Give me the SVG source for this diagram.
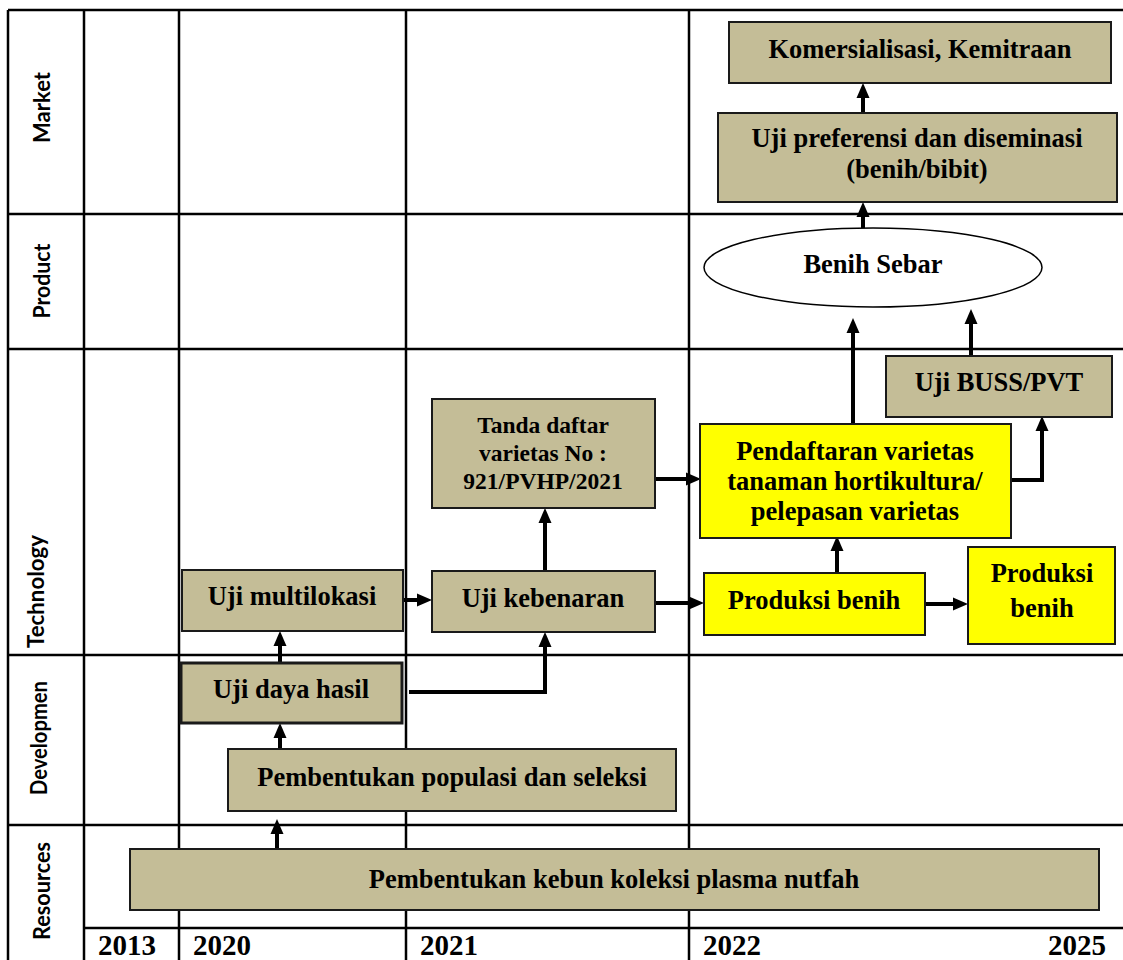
<svg xmlns="http://www.w3.org/2000/svg" width="1123" height="960" viewBox="0 0 1123 960">
<style>
.grid{stroke:#000;stroke-width:2.5;fill:none}
.tan{fill:#C4BD97;stroke:#1a1a1a;stroke-width:2}
.yel{fill:#FFFF00;stroke:#1a1a1a;stroke-width:2}
.t{font-family:"Liberation Serif","Times New Roman",serif;font-weight:bold;font-size:26.5px;fill:#000;text-anchor:middle}
.ts{font-size:23.5px}
.yr{font-family:"Liberation Serif","Times New Roman",serif;font-weight:bold;font-size:29px;fill:#000}
.rl{font-family:Lato,"Open Sans",sans-serif;font-weight:bold;font-size:22px;fill:#000;text-anchor:middle}
.c{stroke:#000;stroke-width:4;fill:none;marker-end:url(#ah)}
</style>
<defs>
<marker id="ah" markerUnits="userSpaceOnUse" markerWidth="15" markerHeight="14" refX="0" refY="7" orient="auto" overflow="visible">
<path d="M0,0.5 L15,7 L0,13.5 z" fill="#000"/>
</marker>
</defs>
<rect x="0" y="0" width="1123" height="960" fill="#fff"/>
<g id="grid">
<path class="grid" d="M8,10 H1123 M8,214 H1123 M8,349 H1123 M8,655 H1123 M8,825 H1123 M84,928 H1123"/>
<path class="grid" d="M8,10 V960 M84,10 V960 M179,10 V960 M406,10 V960 M689,10 V960"/>
</g>
<g id="row-labels">
<text class="rl" transform="translate(50,107.5) rotate(-90)" textLength="71" lengthAdjust="spacingAndGlyphs">Market</text>
<text class="rl" transform="translate(50,281) rotate(-90)" textLength="75" lengthAdjust="spacingAndGlyphs">Product</text>
<text class="rl" transform="translate(44,591.5) rotate(-90)" textLength="113" lengthAdjust="spacingAndGlyphs">Technology</text>
<text class="rl" transform="translate(47,738) rotate(-90)" textLength="114" lengthAdjust="spacingAndGlyphs">Developmen</text>
<text class="rl" transform="translate(50,891) rotate(-90)" textLength="98" lengthAdjust="spacingAndGlyphs">Resources</text>
</g>
<g id="years">
<text class="yr" x="98" y="955">2013</text>
<text class="yr" x="193" y="955">2020</text>
<text class="yr" x="420" y="955">2021</text>
<text class="yr" x="703" y="955">2022</text>
<text class="yr" x="1106" y="955" text-anchor="end">2025</text>
</g>
<g id="connectors">
<path class="c" d="M277,849 V834"/>
<path class="c" d="M280,749 V738"/>
<path class="c" d="M280,662 V646"/>
<path class="c" d="M403,600 H417"/>
<path class="c" d="M409,692 H545 V647"/>
<path class="c" d="M545,571 V523"/>
<path class="c" d="M655,603 H689"/>
<path class="c" d="M655,479 H686"/>
<path class="c" d="M837,573 V551"/>
<path class="c" d="M922,604 H953"/>
<path class="c" d="M1011,480 H1042 V431"/>
<path class="c" d="M853,424 V333"/>
<path class="c" d="M971,356 V324"/>
<path class="c" d="M863,228 V217"/>
<path class="c" d="M863,113 V98"/>
</g>
<g id="plasma">
<rect class="tan" x="130" y="849" width="969" height="61"/>
<text class="t" x="614" y="888">Pembentukan kebun koleksi plasma nutfah</text>
</g>
<g id="populasi">
<rect class="tan" x="228" y="749" width="448" height="62"/>
<text class="t" x="452" y="786">Pembentukan populasi dan seleksi</text>
</g>
<g id="daya-hasil">
<rect class="tan" x="181" y="663" width="221" height="60" style="stroke-width:3"/>
<text class="t" x="291" y="698">Uji daya hasil</text>
</g>
<g id="multilokasi">
<rect class="tan" x="182" y="570" width="221" height="61"/>
<text class="t" x="292" y="605">Uji multilokasi</text>
</g>
<g id="kebenaran">
<rect class="tan" x="432" y="571" width="223" height="61"/>
<text class="t" x="543" y="607">Uji kebenaran</text>
</g>
<g id="tanda-daftar">
<rect class="tan" x="432" y="399" width="223" height="109"/>
<text class="t ts" x="543" y="433">Tanda daftar</text>
<text class="t ts" x="543" y="461">varietas No :</text>
<text class="t ts" x="543" y="489">921/PVHP/2021</text>
</g>
<g id="produksi-benih-1">
<rect class="yel" x="704" y="573" width="221" height="62"/>
<text class="t" x="814" y="609">Produksi benih</text>
</g>
<g id="produksi-benih-2">
<rect class="yel" x="968" y="547" width="147" height="97"/>
<text class="t" x="1042" y="582">Produksi</text>
<text class="t" x="1042" y="617">benih</text>
</g>
<g id="pendaftaran">
<rect class="yel" x="700" y="424" width="311" height="114"/>
<text class="t" x="855" y="460">Pendaftaran varietas</text>
<text class="t" x="855" y="490">tanaman hortikultura/</text>
<text class="t" x="855" y="520">pelepasan varietas</text>
</g>
<g id="uji-buss">
<rect class="tan" x="886" y="356" width="226" height="61"/>
<text class="t" x="999" y="391">Uji BUSS/PVT</text>
</g>
<g id="benih-sebar">
<ellipse cx="873" cy="267.5" rx="169" ry="39.5" fill="#fff" stroke="#000" stroke-width="1.5"/>
<text class="t" x="873" y="273">Benih Sebar</text>
</g>
<g id="uji-preferensi">
<rect class="tan" x="718" y="113" width="399" height="89"/>
<text class="t" x="917" y="147">Uji preferensi dan diseminasi</text>
<text class="t" x="917" y="178">(benih/bibit)</text>
</g>
<g id="komersialisasi">
<rect class="tan" x="729" y="22" width="382" height="61"/>
<text class="t" x="920" y="58">Komersialisasi, Kemitraan</text>
</g>
</svg>
